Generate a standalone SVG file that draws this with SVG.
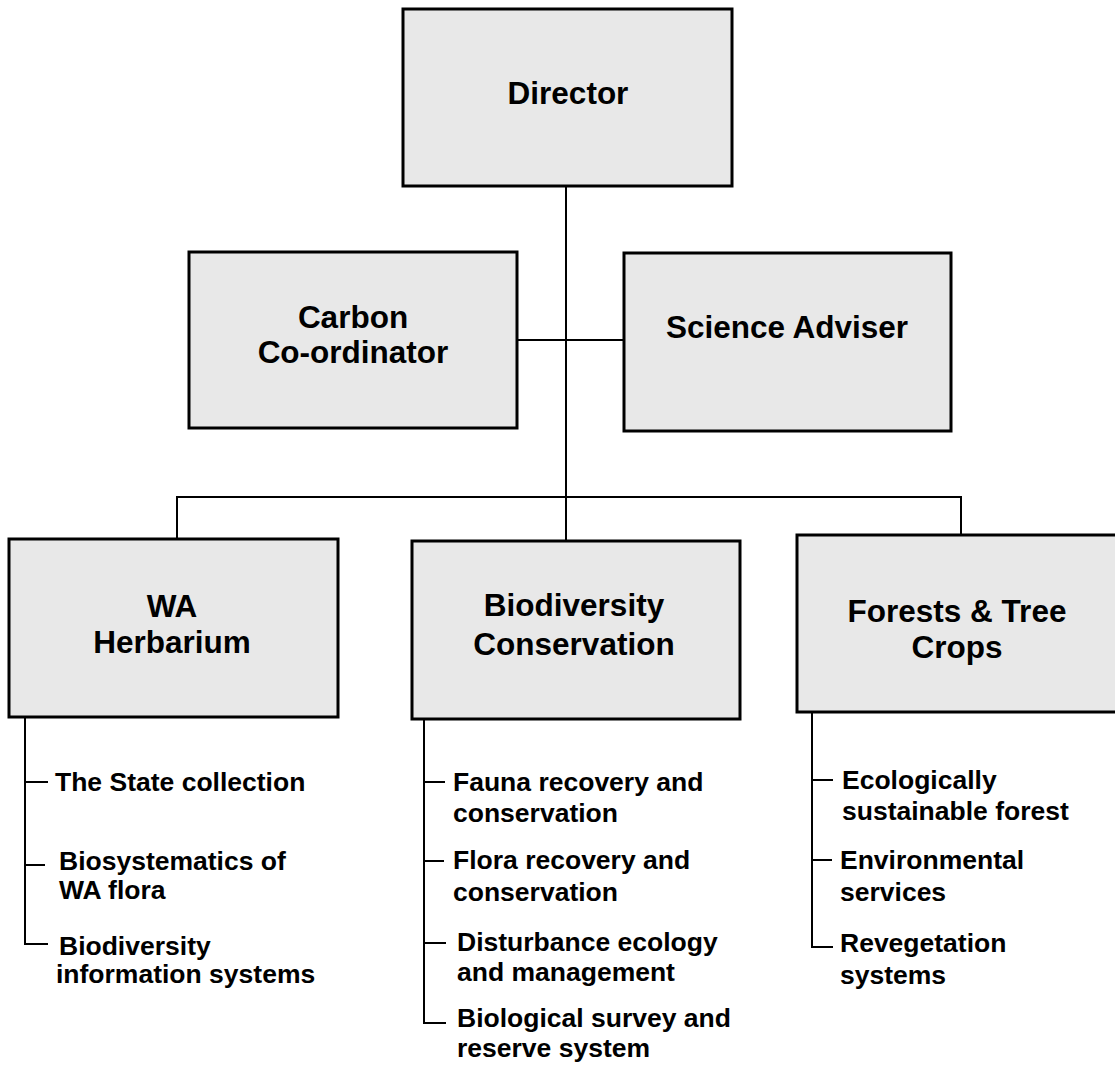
<svg xmlns="http://www.w3.org/2000/svg" width="1115" height="1065" viewBox="0 0 1115 1065">
<style>
.box{fill:#e8e8e8;stroke:#000;stroke-width:3}
.title{font-family:"Liberation Sans",Arial,sans-serif;font-weight:bold;font-size:31.5px;fill:#000;text-anchor:middle}
.item{font-family:"Liberation Sans",Arial,sans-serif;font-weight:bold;font-size:26.5px;fill:#000}
.ln{fill:none;stroke:#000;stroke-width:2}
</style>
<rect width="1115" height="1065" fill="#fff"/>
<g id="connectors">
<path class="ln" d="M566,186 V541"/>
<path class="ln" d="M517,340 H624"/>
<path class="ln" d="M177,539 V497 H961 V534"/>
<path class="ln" d="M25,717 V944 H48 M25,782 H48 M25,865 H45"/>
<path class="ln" d="M424,719 V1023 H446 M424,782 H445 M424,861 H444 M424,943 H446"/>
<path class="ln" d="M812,711 V947 H833 M812,780 H833 M812,860 H832"/>
</g>
<g id="director">
<rect class="box" x="403" y="9" width="329" height="177"/>
<text class="title" x="568" y="104">Director</text>
</g>
<g id="carbon">
<rect class="box" x="189" y="252" width="328" height="176"/>
<text class="title" x="353" y="328">Carbon</text>
<text class="title" x="353" y="363">Co-ordinator</text>
</g>
<g id="science">
<rect class="box" x="624" y="253" width="327" height="178"/>
<text class="title" x="787" y="338">Science Adviser</text>
</g>
<g id="herbarium">
<rect class="box" x="9" y="539" width="329" height="178"/>
<text class="title" x="172" y="617">WA</text>
<text class="title" x="172" y="653">Herbarium</text>
<text class="item" x="55" y="791">The State collection</text>
<text class="item" x="59" y="870">Biosystematics of</text>
<text class="item" x="59" y="899">WA flora</text>
<text class="item" x="59" y="955">Biodiversity</text>
<text class="item" x="56" y="983">information systems</text>
</g>
<g id="biodiversity">
<rect class="box" x="412" y="541" width="328" height="178"/>
<text class="title" x="574" y="616">Biodiversity</text>
<text class="title" x="574" y="655">Conservation</text>
<text class="item" x="453" y="791">Fauna recovery and</text>
<text class="item" x="453" y="822">conservation</text>
<text class="item" x="453" y="869">Flora recovery and</text>
<text class="item" x="453" y="901">conservation</text>
<text class="item" x="457" y="951">Disturbance ecology</text>
<text class="item" x="457" y="981">and management</text>
<text class="item" x="457" y="1027">Biological survey and</text>
<text class="item" x="457" y="1057">reserve system</text>
</g>
<g id="forests">
<rect class="box" x="797" y="535" width="328" height="177"/>
<text class="title" x="957" y="622">Forests &amp; Tree</text>
<text class="title" x="957" y="658">Crops</text>
<text class="item" x="842" y="789">Ecologically</text>
<text class="item" x="842" y="820">sustainable forest</text>
<text class="item" x="840" y="869">Environmental</text>
<text class="item" x="840" y="901">services</text>
<text class="item" x="840" y="952">Revegetation</text>
<text class="item" x="840" y="984">systems</text>
</g>
</svg>
